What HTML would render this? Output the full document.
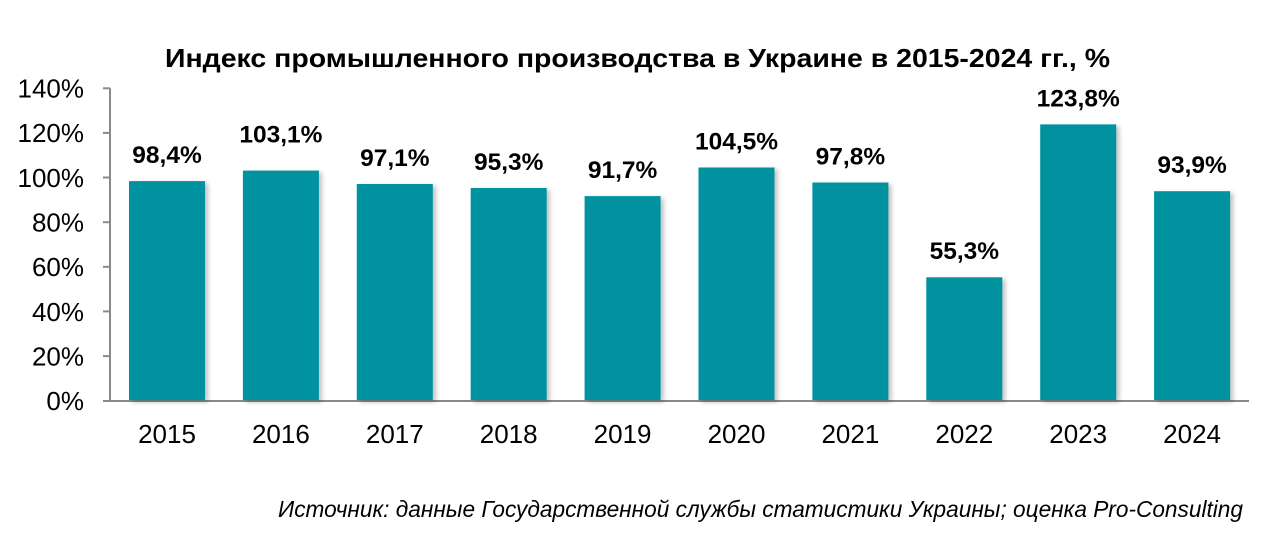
<!DOCTYPE html>
<html><head><meta charset="utf-8"><style>
html,body{margin:0;padding:0;background:#fff;}
svg{display:block;}
</style></head><body>
<svg width="1282" height="542" viewBox="0 0 1282 542" xmlns="http://www.w3.org/2000/svg">
<defs>
<filter id="sh" x="-20%" y="-10%" width="150%" height="120%">
<feGaussianBlur in="SourceAlpha" stdDeviation="2.5"/>
<feOffset dx="3" dy="2" result="b"/>
<feComponentTransfer><feFuncA type="linear" slope="0.25"/></feComponentTransfer>
<feMerge><feMergeNode/><feMergeNode in="SourceGraphic"/></feMerge>
</filter>
</defs>
<rect width="1282" height="542" fill="#fff"/>
<text x="637.5" y="67" text-anchor="middle" font-family="Liberation Sans, Arial, sans-serif" font-weight="bold" font-size="26" textLength="945" lengthAdjust="spacingAndGlyphs">Индекс промышленного производства в Украине в 2015-2024 гг., %</text>
<g font-family="Liberation Sans, Arial, sans-serif" font-size="26" fill="#000" text-anchor="end">
<text x="84" y="410">0%</text>
<text x="84" y="365.4">20%</text>
<text x="84" y="320.8">40%</text>
<text x="84" y="276.1">60%</text>
<text x="84" y="231.5">80%</text>
<text x="84" y="186.9">100%</text>
<text x="84" y="142.2">120%</text>
<text x="84" y="97.6">140%</text>
</g>
<g stroke="#898989" stroke-width="2" fill="none">
<line x1="110" y1="88.3" x2="110" y2="401"/>
<line x1="103" y1="401" x2="1249" y2="401"/>
<line x1="103" y1="88.3" x2="110" y2="88.3"/>
<line x1="103" y1="132.9" x2="110" y2="132.9"/>
<line x1="103" y1="177.5" x2="110" y2="177.5"/>
<line x1="103" y1="222.2" x2="110" y2="222.2"/>
<line x1="103" y1="266.8" x2="110" y2="266.8"/>
<line x1="103" y1="311.4" x2="110" y2="311.4"/>
<line x1="103" y1="356.1" x2="110" y2="356.1"/>
</g>
<g fill="#00929E" filter="url(#sh)">
<rect x="129" y="181.1" width="76" height="219"/>
<rect x="242.9" y="170.6" width="76" height="229.5"/>
<rect x="356.8" y="184.0" width="76" height="216"/>
<rect x="470.7" y="188.0" width="76" height="212"/>
<rect x="584.6" y="196.1" width="76" height="204"/>
<rect x="698.5" y="167.5" width="76" height="232.5"/>
<rect x="812.4" y="182.5" width="76" height="217.5"/>
<rect x="926.3" y="277.3" width="76" height="122.7"/>
<rect x="1040.2" y="124.4" width="76" height="275.6"/>
<rect x="1154.1" y="191.2" width="76" height="208.8"/>
</g>
<g font-family="Liberation Sans, Arial, sans-serif" font-size="24.5" font-weight="bold" fill="#000" text-anchor="middle">
<text x="167" y="163">98,4%</text>
<text x="280.9" y="142.3">103,1%</text>
<text x="394.8" y="165.8">97,1%</text>
<text x="508.7" y="169.8">95,3%</text>
<text x="622.6" y="177.9">91,7%</text>
<text x="736.5" y="149.3">104,5%</text>
<text x="850.4" y="164.3">97,8%</text>
<text x="964.3" y="259.1">55,3%</text>
<text x="1078.2" y="106.4">123,8%</text>
<text x="1192.1" y="173">93,9%</text>
</g>
<g font-family="Liberation Sans, Arial, sans-serif" font-size="26" fill="#000" text-anchor="middle">
<text x="167" y="443">2015</text>
<text x="280.9" y="443">2016</text>
<text x="394.8" y="443">2017</text>
<text x="508.7" y="443">2018</text>
<text x="622.6" y="443">2019</text>
<text x="736.5" y="443">2020</text>
<text x="850.4" y="443">2021</text>
<text x="964.3" y="443">2022</text>
<text x="1078.2" y="443">2023</text>
<text x="1192.1" y="443">2024</text>
</g>
<text x="278" y="517" font-family="Liberation Sans, Arial, sans-serif" font-style="italic" font-size="23" fill="#000" textLength="965" lengthAdjust="spacingAndGlyphs">Источник: данные Государственной службы статистики Украины; оценка Pro-Consulting</text>
</svg>
</body></html>
